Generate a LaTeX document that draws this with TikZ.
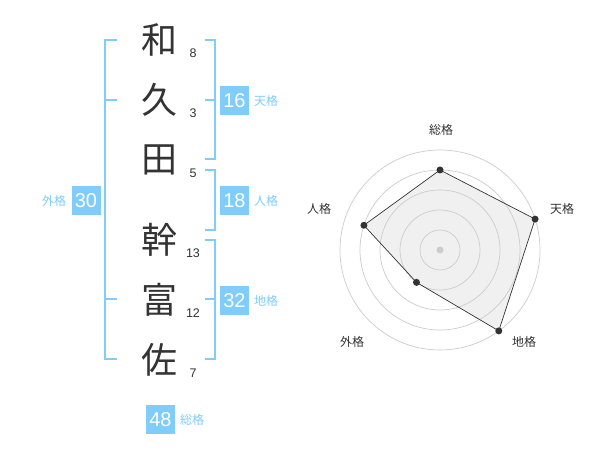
\documentclass[tikz,border=0pt]{standalone}
\usepackage{fontspec}
\setmainfont{Liberation Sans}
\newfontfamily\cjk{Noto Sans CJK JP}
\definecolor{skyb}{HTML}{80CCFA}
\definecolor{ink}{HTML}{333333}
\definecolor{ring}{HTML}{CCCCCC}
\definecolor{fillg}{HTML}{F0F0F0}
\begin{document}
\begin{tikzpicture}[x=1pt,y=-1pt,
  kanji/.style={font=\cjk\fontsize{36}{36}\selectfont, text=ink, inner sep=0pt},
  stroke/.style={font=\fontsize{12.5}{12.5}\selectfont, text=ink, inner sep=0pt},
  numbox/.style={fill=skyb, text=white, minimum width=29pt, minimum height=29pt, inner sep=0pt, font=\fontsize{20}{20}\selectfont},
  kaku/.style={font=\cjk\fontsize{12}{12}\selectfont, text=skyb, inner sep=0pt},
  brk/.style={draw=skyb, line width=2pt},
  axlabel/.style={font=\cjk\fontsize{12}{12}\selectfont, text=ink, inner sep=0pt},
  ringc/.style={draw=ring, line width=0.7pt},
  vdot/.style={circle, fill=ink, inner sep=0pt, minimum size=7pt}
]
\useasboundingbox (0,0) rectangle (600,470);
\fill[white] (0,0) rectangle (600,470);

% kanji
\node[kanji] (k1) at (159,40) {和};
\node[kanji] (k2) at (159,100) {久};
\node[kanji] (k3) at (159,160) {田};
\node[kanji] (k4) at (159,240) {幹};
\node[kanji] (k5) at (159,300) {富};
\node[kanji] (k6) at (159,360) {佐};

% stroke counts
\node[stroke] (s1) at (193,53) {8};
\node[stroke] (s2) at (193,113) {3};
\node[stroke] (s3) at (193,173) {5};
\node[stroke] (s4) at (193,253) {13};
\node[stroke] (s5) at (193,313) {12};
\node[stroke] (s6) at (193,373) {7};

% left bracket (gaikaku)
\draw[brk] (117,40) -- (105,40) -- (105,359) -- (117,359);
\draw[brk] (105,100) -- (117,100);
\draw[brk] (105,299) -- (117,299);
\node[numbox] (b30) at (86,200.5) {30};
\node[kaku] (l30) at (54,201) {外格};

% right brackets
\draw[brk] (205,40) -- (215,40) -- (215,159) -- (205,159);
\draw[brk] (205,100) -- (215,100);
\node[numbox] (b16) at (234.5,100.5) {16};
\node[kaku] (l16) at (266,101) {天格};

\draw[brk] (205,170) -- (215,170) -- (215,230) -- (205,230);
\node[numbox] (b18) at (234.5,200.5) {18};
\node[kaku] (l18) at (266,201) {人格};

\draw[brk] (205,240) -- (215,240) -- (215,359) -- (205,359);
\draw[brk] (205,299) -- (215,299);
\node[numbox] (b32) at (234.5,300.5) {32};
\node[kaku] (l32) at (266,301) {地格};

\node[numbox] (b48) at (160.5,419.5) {48};
\node[kaku] (l48) at (192,420) {総格};

% radar chart
\begin{scope}[shift={(440,250)}, yscale=-1]
  \coordinate (pS) at (90:80);
  \coordinate (pT) at (18:100);
  \coordinate (pC) at (-54:100);
  \coordinate (pG) at (-126:40);
  \coordinate (pJ) at (162:80);
  \fill[fillg] (pS) -- (pT) -- (pC) -- (pG) -- (pJ) -- cycle;
  \foreach \r in {20,40,60,80,100} \draw[ringc] (0,0) circle[radius=\r];
  \draw[ink, line width=0.7pt] (pS) -- (pT) -- (pC) -- (pG) -- (pJ) -- cycle;
  \node[circle, fill=ring, inner sep=0pt, minimum size=7pt] (ctr) at (0,0) {};
  \node[vdot] (dS) at (pS) {};
  \node[vdot] (dT) at (pT) {};
  \node[vdot] (dC) at (pC) {};
  \node[vdot] (dG) at (pG) {};
  \node[vdot] (dJ) at (pJ) {};
\end{scope}
\node[axlabel] (aS) at (441,130) {総格};
\node[axlabel] (aT) at (562,209) {天格};
\node[axlabel] (aC) at (524,342) {地格};
\node[axlabel] (aG) at (352,342) {外格};
\node[axlabel] (aJ) at (319,209) {人格};
\end{tikzpicture}
\end{document}
